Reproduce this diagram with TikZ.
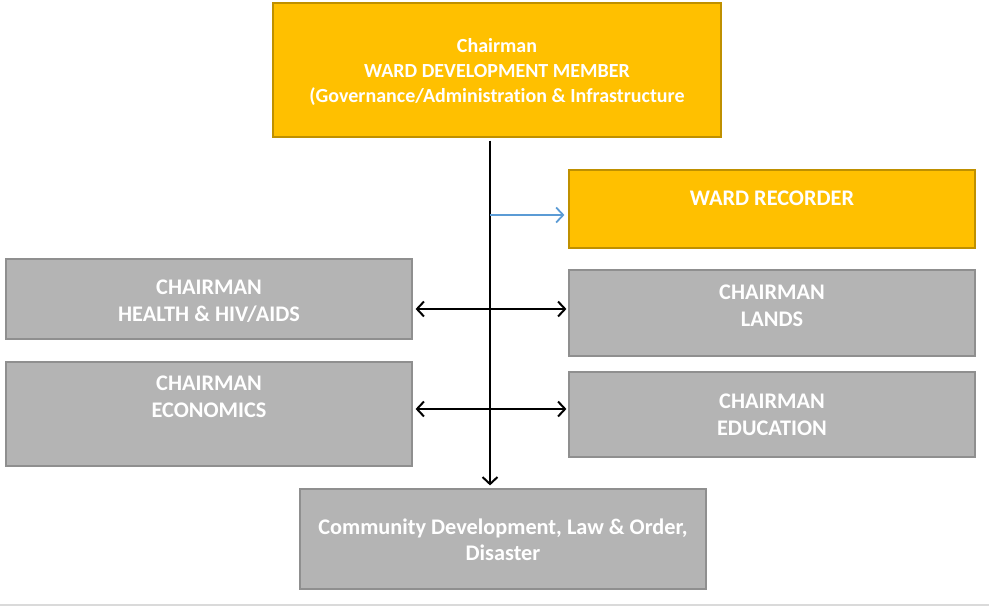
\documentclass[tikz,border=0pt]{standalone}
\usepackage{fontspec}
\setmainfont{Carlito}[Ligatures={NoCommon}]
\usetikzlibrary{arrows.meta}
\definecolor{gold}{HTML}{FFC000}
\definecolor{goldline}{HTML}{BF9000}
\definecolor{boxgray}{HTML}{B4B4B4}
\definecolor{grayline}{HTML}{8F8F8F}
\definecolor{linkblue}{HTML}{5B9BD5}
\definecolor{rule}{HTML}{DADADA}
\tikzset{
  goldbox/.style={draw=goldline, fill=gold, line width=1.2pt, inner sep=0pt},
  graybox/.style={draw=grayline, fill=boxgray, line width=1.2pt, inner sep=0pt},
  lbl/.style={text=white, font=\fontsize{22.3}{26.5}\selectfont\bfseries, align=center, inner sep=0pt},
  toplbl/.style={lbl, font=\fontsize{20}{25}\selectfont\bfseries},
  conn/.style={line width=2pt, black},
  barb/.tip={Straight Barb[length=7pt,width=15pt,line width=2pt]}
}
\begin{document}
\begin{tikzpicture}[x=1pt,y=-1pt]
\useasboundingbox (0,0) rectangle (989,607);
\draw[rule, line width=1.5pt] (0,605) -- (989,605);
% boxes
\node[goldbox, minimum width=448pt, minimum height=134pt] (top) at (497,70) {};
\node[goldbox, minimum width=406pt, minimum height=78pt] (rec) at (772,209) {};
\node[graybox, minimum width=406pt, minimum height=80pt] (health) at (209,299) {};
\node[graybox, minimum width=406pt, minimum height=86pt] (lands) at (772,313) {};
\node[graybox, minimum width=406pt, minimum height=104pt] (econ) at (209,414) {};
\node[graybox, minimum width=406pt, minimum height=85pt] (edu) at (772,414.5) {};
\node[graybox, minimum width=406pt, minimum height=100pt] (bottom) at (503,539) {};
% labels
\node[toplbl] (ttop) at (497,72) {Chairman\\WARD DEVELOPMENT MEMBER\\(Governance/Administration \& Infrastructure};
\node[lbl] (trec) at (772,198) {WARD RECORDER};
\node[lbl] (thealth) at (209,301) {CHAIRMAN\\HEALTH \& HIV/AIDS};
\node[lbl] (tlands) at (772,306) {CHAIRMAN\\LANDS};
\node[lbl] (tecon) at (209,397) {CHAIRMAN\\ECONOMICS};
\node[lbl] (tedu) at (772,415) {CHAIRMAN\\EDUCATION};
\node[lbl] (tbottom) at (503,540) {Community Development, Law \& Order,\\Disaster};
% connectors
\coordinate (spine) at (490,0);
\coordinate (ctop) at (spine |- top.south);
\coordinate (cbot) at (spine |- bottom.north);
\draw[conn, -barb, shorten <=3pt, shorten >=3pt] (ctop) -- (cbot);
\coordinate (b1) at (490,215);
\draw[linkblue, line width=1.8pt, -{Straight Barb[length=7pt,width=15pt,line width=1.8pt]}, shorten >=4pt] (b1) -- (rec.west |- b1);
\coordinate (r1) at (0,309);
\draw[conn, barb-barb, shorten <=3pt, shorten >=2pt] (health.east |- r1) -- (lands.west |- r1);
\coordinate (r2) at (0,409);
\draw[conn, barb-barb, shorten <=3pt, shorten >=2pt] (econ.east |- r2) -- (edu.west |- r2);
\end{tikzpicture}
\end{document}
